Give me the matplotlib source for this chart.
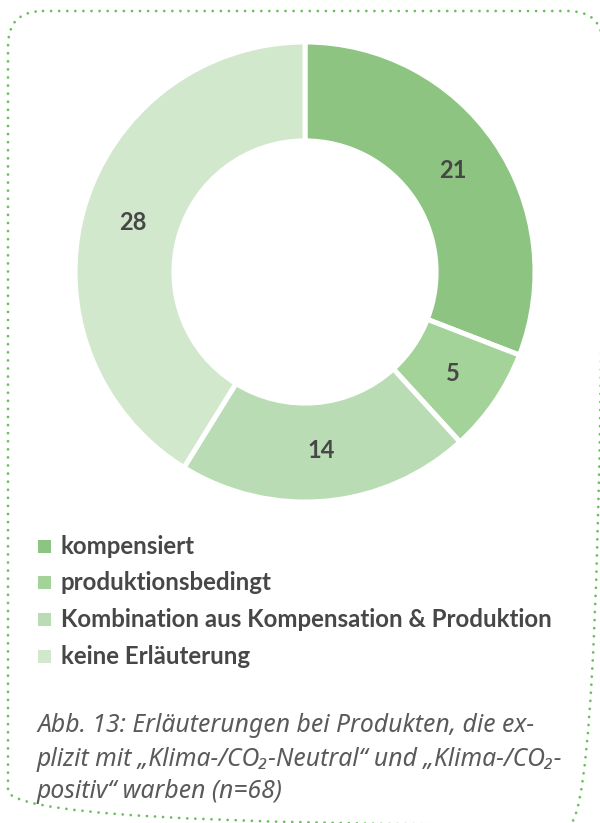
import matplotlib
matplotlib.use("Agg")
import matplotlib.pyplot as plt
from matplotlib.patches import FancyBboxPatch, Rectangle

# Daten
kategorien = ["kompensiert", "produktionsbedingt",
              "Kombination aus Kompensation & Produktion", "keine Erläuterung"]
werte = [21, 5, 14, 28]
farben = ["#8dc481", "#a3d399", "#badcb4", "#d2e8cd"]
caption = ["Abb. 13: Erläuterungen bei Produkten, die ex-",
           "plizit mit „Klima-/CO₂-Neutral“ und „Klima-/CO₂-",
           "positiv“ warben (n=68)"]

plt.rcParams["font.family"] = ["Noto Sans", "DejaVu Sans"]
fett = ["Lato", "DejaVu Sans"]

W, H = 600, 823
fig = plt.figure(figsize=(W / 100, H / 100), dpi=100)

# Hintergrund-Achse in Pixelkoordinaten
bg = fig.add_axes([0, 0, 1, 1])
bg.set_xlim(0, W)
bg.set_ylim(H, 0)
bg.axis("off")

rahmen = FancyBboxPatch((8, 11), 595, 814, boxstyle="round,pad=0,rounding_size=35",
                        facecolor="none", edgecolor="#6cbf5f", linewidth=2.0,
                        linestyle=(0, (0.01, 2.9)))
rahmen.set_capstyle("round")
bg.add_patch(rahmen)

# Donut
cx, cy, r = 305, 272, 230
ax = fig.add_axes([(cx - r) / W, (H - cy - r) / H, 2 * r / W, 2 * r / H])
summe = sum(werte)
ax.pie(werte, colors=farben, startangle=90, counterclock=False, radius=1,
       wedgeprops=dict(width=0.43, edgecolor="white", linewidth=3.6),
       autopct=lambda p: f"{round(p * summe / 100)}", pctdistance=0.78,
       textprops=dict(color="#474747", fontsize=17, fontweight="bold", family=fett))
ax.set_xlim(-1, 1)
ax.set_ylim(-1, 1)

# Legende
for i, (kat, f) in enumerate(zip(kategorien, farben)):
    y = 546 + i * 36.7
    bg.add_patch(Rectangle((38, y - 6.5), 13, 13, facecolor=f, edgecolor="none"))
    bg.text(61, y, kat, fontsize=17.3, fontweight="bold", color="#474747",
            va="center", ha="left", family=fett)

# Bildunterschrift
for i, zeile in enumerate(caption):
    bg.text(37, 726 + i * 33, zeile, fontsize=17.8, fontstyle="italic",
            fontweight="light", color="#5a5a5a", va="center", ha="left")

fig.savefig("out.png", dpi=100)
